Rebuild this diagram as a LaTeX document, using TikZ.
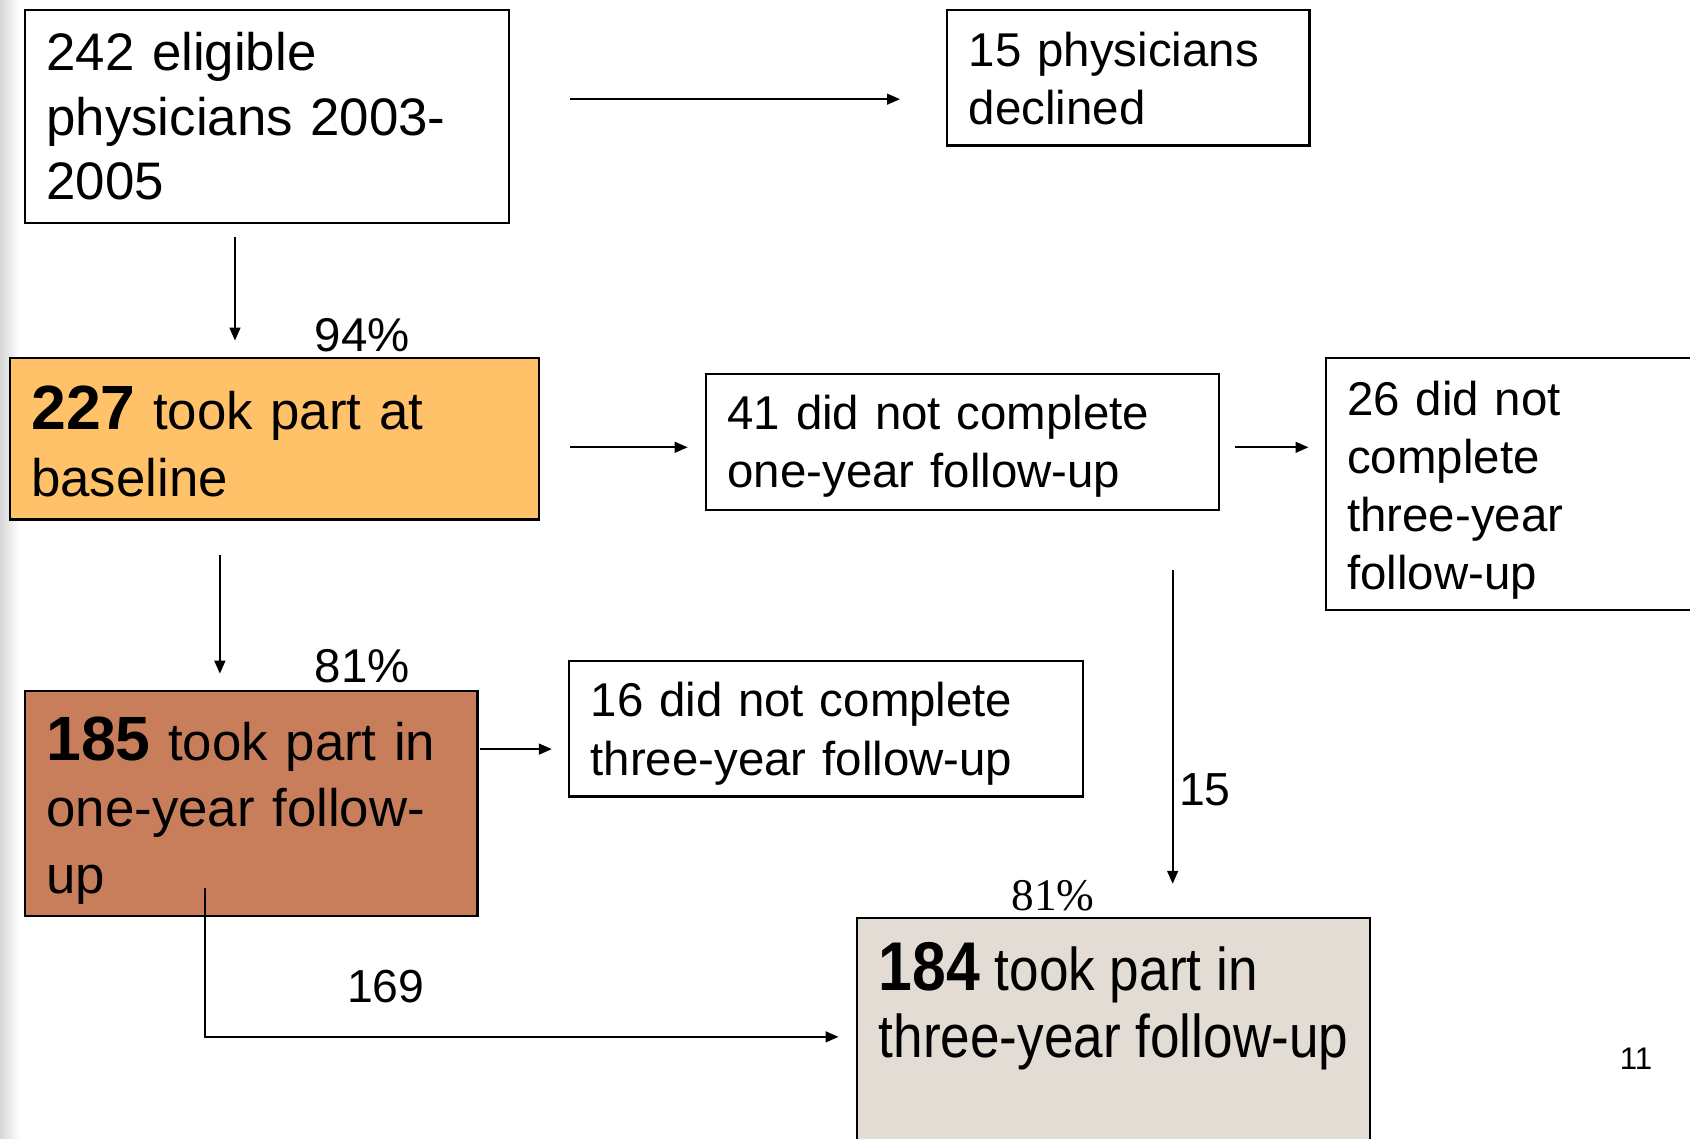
\documentclass[tikz,border=0pt]{standalone}
\usepackage{fontspec}
\setmainfont{Liberation Sans}
\newfontfamily\serifnum{Liberation Serif}
\newfontfamily\narrowsans[FakeStretch=0.88]{Liberation Sans}
\usetikzlibrary{arrows.meta,calc}
\definecolor{orangefill}{HTML}{FFC268}
\definecolor{brownfill}{HTML}{C87E5A}
\definecolor{beigefill}{HTML}{E3DCD4}
\tikzset{
  box/.style={draw, line width=1pt, anchor=north west, inner xsep=10pt, inner ysep=0pt, align=left},
  bigtxt/.style={font=\fontsize{24.5}{30}\selectfont},
  midtxt/.style={font=\fontsize{22}{27}\selectfont},
  lbl/.style={inner sep=0pt, font=\fontsize{21.5}{24}\selectfont},
  arr/.style={line width=0.9pt, -{Triangle[length=6pt,width=5pt]}}
}
\newcommand{\bignum}[1]{{\bfseries\fontsize{29}{31}\selectfont #1}}
\newcommand{\topstrut}[1]{\rule{0pt}{#1}}
\begin{document}
\begin{tikzpicture}[x=0.5pt,y=-0.5pt]
\useasboundingbox (0,0) rectangle (1568,1056);
\fill[white] (0,0) rectangle (1568,1056);
\shade[left color=gray!32, right color=white] (0,0) rectangle (18,1056);

% boxes
\node[box, bigtxt, minimum width=224.5pt, minimum height=99pt, text width=204.5pt] (A) at (22,8)
  {242 eligible\\physicians 2003-\\2005};
\node[box, midtxt, minimum width=168pt, minimum height=63pt, text width=148pt] (B) at (878,8)
  {\topstrut{16.75pt}15 physicians\\declined};
\node[box, fill=orangefill, font=\fontsize{24.5}{31}\selectfont, minimum width=245.5pt, minimum height=75pt, text width=225.5pt] (C) at (8,331)
  {\topstrut{22.8pt}\bignum{227} took part at\\baseline};
\node[box, midtxt, minimum width=238pt, minimum height=63pt, text width=218pt] (D) at (654,346)
  {\topstrut{19.75pt}41 did not complete\\one-year follow-up};
\node[box, midtxt, minimum width=200pt, minimum height=117pt, text width=180pt] (E) at (1229,331)
  {\topstrut{21.75pt}26 did not\\complete\\three-year\\follow-up};
\node[box, fill=brownfill, font=\fontsize{24.5}{31}\selectfont, minimum width=210pt, minimum height=104.5pt, text width=190pt] (F) at (22,640)
  {\topstrut{26.8pt}\bignum{185} took part in\\one-year follow-\\up};
\node[box, midtxt, minimum width=238.5pt, minimum height=63pt, text width=218.5pt] (G) at (527,612)
  {\topstrut{20.75pt}16 did not complete\\three-year follow-up};
\node[box, fill=beigefill, minimum width=238pt, minimum height=150pt] (H) at (794,851) {};
\node[anchor=north west, inner sep=0pt, align=left, font=\narrowsans\fontsize{28}{31}\selectfont] (Htxt) at (815,874)
  {{\bfseries\fontsize{32}{31}\selectfont 184} took part in\\three-year follow-up};

% labels
\node[lbl, font=\fontsize{22}{24}\selectfont] (p94) at (336,311) {94\%};
\node[lbl, font=\fontsize{22}{24}\selectfont] (p81a) at (336,618) {81\%};
\node[lbl, font=\serifnum\fontsize{21}{24}\selectfont] (p81b) at (977,831) {81\%};
\node[lbl] (l15) at (1118,733) {15};
\node[lbl] (l169) at (358,915) {169};
\node[lbl, font=\fontsize{14.5}{16}\selectfont] (pg) at (1518,982) {11};

% connectors
\draw[arr, shorten <=28pt, shorten >=21.5pt] (A.east |- 0,92) -- (B.west |- 0,92);
\draw[arr, shorten <=6pt, shorten >=7.5pt] (A.south -| 218,0) -- (C.north -| 218,0);
\draw[arr, shorten <=14pt, shorten >=8pt] (C.east |- 0,415) -- (D.west |- 0,415);
\draw[arr, shorten <=7pt, shorten >=7.5pt] (D.east |- 0,415) -- (E.west |- 0,415);
\draw[arr, shorten <=16pt, shorten >=7.5pt] (C.south -| 204,0) -- (F.north -| 204,0);
\draw[arr, shorten <=0.5pt, shorten >=7.5pt] (F.east |- 0,695) -- (G.west |- 0,695);
\draw[arr, shorten <=27.5pt, shorten >=15.5pt] (D.south -| 1088,0) -- (H.north -| 1088,0);
\draw[arr, shorten <=-13.5pt, shorten >=8pt] (F.south -| 190,0) |- (H.west |- 0,962);
\end{tikzpicture}
\end{document}
